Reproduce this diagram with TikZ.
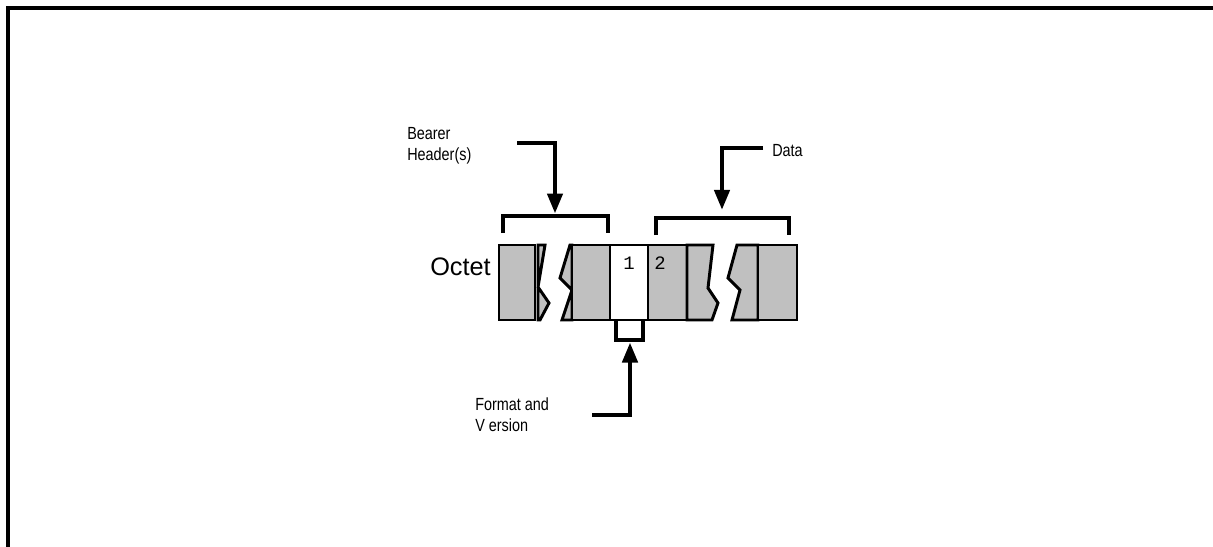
\documentclass[tikz,border=0pt]{standalone}
\usepackage{fontspec}
\setmainfont{Liberation Sans}
\newfontfamily\narrowfont[FakeStretch=0.82]{Liberation Sans}
\newfontfamily\codefont{Liberation Mono}
\usetikzlibrary{arrows.meta}
\definecolor{octgray}{HTML}{C0C0C0}
\tikzset{
  >={Triangle[length=14pt,width=11pt]},
  % ram och celler
  frame/.style={draw=black,line width=2.3pt},
  oct/.style={draw=black,fill=octgray,line width=2.1pt,line join=miter},
  octw/.style={oct,fill=white},
  % klamrar och pilar
  brk/.style={draw=black,line width=2.3pt},
  lead/.style={->,draw=black,line width=2.3pt},
  lbl/.style={font=\narrowfont\fontsize{12.5}{15}\selectfont,inner sep=0pt,align=left},
  num/.style={font=\codefont\fontsize{13.5}{15}\selectfont,inner sep=0pt},
}
\begin{document}
\begin{tikzpicture}[x=0.025cm,y=-0.025cm]
  \useasboundingbox (0,0) rectangle (1213,547);
  \draw[frame] (8,548) -- (8,8) -- (1214,8);
  % oktetter
  \filldraw[oct] (499,245) rectangle (535,320);
  \filldraw[oct] (538,245) -- (545,245) -- (538,287) -- (549,303) -- (540,320) -- (538,320) -- cycle;
  \filldraw[oct] (570,245) -- (572,245) -- (572,320) -- (562,320) -- (572,290) -- (560,278) -- cycle;
  \filldraw[oct] (572,245) rectangle (610,320);
  \filldraw[octw] (610,245) rectangle (648,320);
  \filldraw[oct] (648,245) rectangle (687,320);
  \filldraw[oct] (687,245) -- (713,245) -- (708,288) -- (718,303) -- (712,320) -- (687,320) -- cycle;
  \filldraw[oct] (737,245) -- (758,245) -- (758,320) -- (732,320) -- (740,290) -- (728,278) -- cycle;
  \filldraw[oct] (758,245) rectangle (797,320);
  \node[num] (one) at (629,263) {1};
  \node[num] (two) at (660,263) {2};
  \node[anchor=base west,inner sep=0pt,font=\fontsize{18}{20}\selectfont] (octet) at (430,275) {Octet};
  % klamrar
  \coordinate (hb) at (555,216);
  \coordinate (db) at (722,218);
  \coordinate (fb) at (630,340);
  \draw[brk] (503,233) -- (503,216) -- (hb) -- (608,216) -- (608,233);
  \draw[brk] (656,235) -- (656,218) -- (db) -- (789,218) -- (789,235);
  \draw[brk] (616,320) -- (616,340) -- (fb) -- (643,340) -- (643,320);
  % etiketter
  \node[lbl,anchor=north west] (hdr) at (407,127) {Bearer\\Header(s)};
  \node[lbl,anchor=base west] (data) at (772,156) {Data};
  \node[lbl,anchor=north west] (fmt) at (475,397) {Format and\\V ersion};
  \coordinate (hs) at (517,143);
  \coordinate (ds) at (763,148);
  \coordinate (fs) at (592,415);
  \draw[lead] (hs) -| ([yshift=2pt]hb);
  \draw[lead] (ds) -| ([yshift=6pt]db);
  \draw[lead] (fs) -| ([yshift=-2pt]fb);
\end{tikzpicture}
\end{document}
